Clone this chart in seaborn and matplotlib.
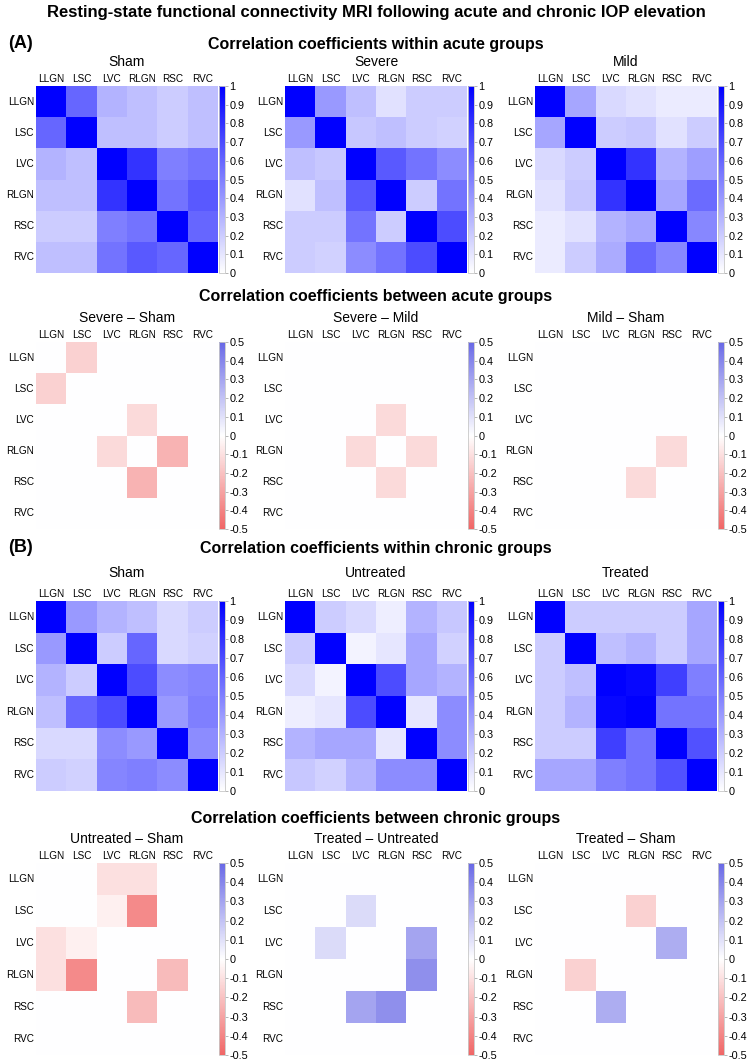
import numpy as np
import pandas as pd
import matplotlib
matplotlib.use('Agg')
import matplotlib.pyplot as plt
import seaborn as sns
from matplotlib import font_manager
from matplotlib.colors import LinearSegmentedColormap

# regions of interest (rows and columns of every matrix)
regions = ['LLGN', 'LSC', 'LVC', 'RLGN', 'RSC', 'RVC']

# correlation coefficients within acute groups
acute_sham = [
    [1.00, 0.60, 0.30, 0.25, 0.20, 0.25],
    [0.60, 1.00, 0.25, 0.25, 0.20, 0.25],
    [0.30, 0.25, 1.00, 0.80, 0.50, 0.55],
    [0.25, 0.25, 0.80, 1.00, 0.55, 0.65],
    [0.20, 0.20, 0.50, 0.55, 1.00, 0.60],
    [0.25, 0.25, 0.55, 0.65, 0.60, 1.00],
]
acute_severe = [
    [1.00, 0.40, 0.25, 0.12, 0.20, 0.20],
    [0.40, 1.00, 0.22, 0.25, 0.20, 0.18],
    [0.25, 0.22, 1.00, 0.65, 0.55, 0.45],
    [0.12, 0.25, 0.65, 1.00, 0.20, 0.55],
    [0.20, 0.20, 0.55, 0.20, 1.00, 0.70],
    [0.20, 0.18, 0.45, 0.55, 0.70, 1.00],
]
acute_mild = [
    [1.00, 0.35, 0.15, 0.12, 0.08, 0.08],
    [0.35, 1.00, 0.20, 0.22, 0.12, 0.20],
    [0.15, 0.20, 1.00, 0.80, 0.30, 0.38],
    [0.12, 0.22, 0.80, 1.00, 0.35, 0.58],
    [0.08, 0.12, 0.30, 0.35, 1.00, 0.47],
    [0.08, 0.20, 0.33, 0.60, 0.47, 1.00],
]

# differences between acute groups
acute_severe_sham = [
    [0.00, -0.15, 0.00, 0.00, 0.00, 0.00],
    [-0.15, 0.00, 0.00, 0.00, 0.00, 0.00],
    [0.00, 0.00, 0.00, -0.12, 0.00, 0.00],
    [0.00, 0.00, -0.12, 0.00, -0.25, 0.00],
    [0.00, 0.00, 0.00, -0.25, 0.00, 0.00],
    [0.00, 0.00, 0.00, 0.00, 0.00, 0.00],
]
acute_severe_mild = [
    [0.00, 0.00, 0.00, 0.00, 0.00, 0.00],
    [0.00, 0.00, 0.00, 0.00, 0.00, 0.00],
    [0.00, 0.00, 0.00, -0.12, 0.00, 0.00],
    [0.00, 0.00, -0.12, 0.00, -0.12, 0.00],
    [0.00, 0.00, 0.00, -0.12, 0.00, 0.00],
    [0.00, 0.00, 0.00, 0.00, 0.00, 0.00],
]
acute_mild_sham = [
    [0.00, 0.00, 0.00, 0.00, 0.00, 0.00],
    [0.00, 0.00, 0.00, 0.00, 0.00, 0.00],
    [0.00, 0.00, 0.00, 0.00, 0.00, 0.00],
    [0.00, 0.00, 0.00, 0.00, -0.12, 0.00],
    [0.00, 0.00, 0.00, -0.12, 0.00, 0.00],
    [0.00, 0.00, 0.00, 0.00, 0.00, 0.00],
]

# correlation coefficients within chronic groups
chronic_sham = [
    [1.00, 0.40, 0.30, 0.25, 0.15, 0.20],
    [0.40, 1.00, 0.20, 0.60, 0.15, 0.18],
    [0.30, 0.20, 1.00, 0.70, 0.45, 0.48],
    [0.25, 0.60, 0.70, 1.00, 0.40, 0.50],
    [0.15, 0.15, 0.45, 0.40, 1.00, 0.45],
    [0.20, 0.18, 0.48, 0.50, 0.45, 1.00],
]
chronic_untreated = [
    [1.00, 0.20, 0.15, 0.07, 0.30, 0.22],
    [0.20, 1.00, 0.05, 0.10, 0.35, 0.18],
    [0.15, 0.05, 1.00, 0.70, 0.35, 0.30],
    [0.07, 0.10, 0.70, 1.00, 0.10, 0.45],
    [0.30, 0.35, 0.35, 0.10, 1.00, 0.45],
    [0.22, 0.18, 0.30, 0.45, 0.45, 1.00],
]
chronic_treated = [
    [1.00, 0.20, 0.20, 0.20, 0.20, 0.35],
    [0.20, 1.00, 0.25, 0.30, 0.20, 0.35],
    [0.20, 0.25, 1.00, 0.97, 0.75, 0.50],
    [0.20, 0.30, 0.97, 1.00, 0.55, 0.55],
    [0.20, 0.20, 0.75, 0.55, 1.00, 0.68],
    [0.35, 0.35, 0.50, 0.55, 0.68, 1.00],
]

# differences between chronic groups
chronic_untreated_sham = [
    [0.00, 0.00, -0.10, -0.10, 0.00, 0.00],
    [0.00, 0.00, -0.05, -0.38, 0.00, 0.00],
    [-0.10, -0.05, 0.00, 0.00, 0.00, 0.00],
    [-0.10, -0.38, 0.00, 0.00, -0.22, 0.00],
    [0.00, 0.00, 0.00, -0.22, 0.00, 0.00],
    [0.00, 0.00, 0.00, 0.00, 0.00, 0.00],
]
chronic_treated_untreated = [
    [0.00, 0.00, 0.00, 0.00, 0.00, 0.00],
    [0.00, 0.00, 0.12, 0.00, 0.00, 0.00],
    [0.00, 0.12, 0.00, 0.00, 0.30, 0.00],
    [0.00, 0.00, 0.00, 0.00, 0.37, 0.00],
    [0.00, 0.00, 0.30, 0.37, 0.00, 0.00],
    [0.00, 0.00, 0.00, 0.00, 0.00, 0.00],
]
chronic_treated_sham = [
    [0.00, 0.00, 0.00, 0.00, 0.00, 0.00],
    [0.00, 0.00, 0.00, -0.15, 0.00, 0.00],
    [0.00, 0.00, 0.00, 0.00, 0.27, 0.00],
    [0.00, -0.15, 0.00, 0.00, 0.00, 0.00],
    [0.00, 0.00, 0.27, 0.00, 0.00, 0.00],
    [0.00, 0.00, 0.00, 0.00, 0.00, 0.00],
]

rows = [
    ('Correlation coefficients within acute groups', 'within',
     [('Sham', acute_sham), ('Severe', acute_severe), ('Mild', acute_mild)]),
    ('Correlation coefficients between acute groups', 'between',
     [('Severe \u2013 Sham', acute_severe_sham), ('Severe \u2013 Mild', acute_severe_mild),
      ('Mild \u2013 Sham', acute_mild_sham)]),
    ('Correlation coefficients within chronic groups', 'within',
     [('Sham', chronic_sham), ('Untreated', chronic_untreated), ('Treated', chronic_treated)]),
    ('Correlation coefficients between chronic groups', 'between',
     [('Untreated \u2013 Sham', chronic_untreated_sham),
      ('Treated \u2013 Untreated', chronic_treated_untreated),
      ('Treated \u2013 Sham', chronic_treated_sham)]),
]

# fonts: Arial-like and a narrow variant when available
names = {f.name for f in font_manager.fontManager.ttflist}
REG = 'Liberation Sans' if 'Liberation Sans' in names else 'DejaVu Sans'
NARROW = 'Liberation Sans Narrow' if 'Liberation Sans Narrow' in names else REG
narrow_ok = NARROW != REG

sns.set_style('white')
plt.rcParams['font.family'] = [REG, 'DejaVu Sans']
plt.rcParams['text.color'] = 'black'
plt.rcParams['xtick.color'] = 'black'
plt.rcParams['ytick.color'] = 'black'

cmap_within = LinearSegmentedColormap.from_list('wb', ['#ffffff', '#0000ff'])
cmap_between = LinearSegmentedColormap.from_list('rwb', ['#f06666', '#ffffff', '#6868e6'])

W, H = 751, 1063
fig = plt.figure(figsize=(W / 100, H / 100), dpi=100)


def box(x0, y0, x1, y1):
    # pixel box (top-left origin) -> figure fraction
    return [x0 / W, 1 - y1 / H, (x1 - x0) / W, (y1 - y0) / H]


col_x = [36, 285, 535]
hm_w = 182
row_y = [(86, 273), (342, 529), (601, 791), (863, 1055)]
sub_y = [44, 297, 549, 818]
title_y = [62, 318, 573, 839]

head_size = 14.5 if narrow_ok else 12
sub_size = 13.5 if narrow_ok else 11.5

fig.text(376 / W, 1 - 13 / H, 'Resting-state functional connectivity MRI following acute and chronic IOP elevation',
         ha='center', va='center', fontsize=head_size, fontweight='bold', family=[NARROW, 'DejaVu Sans'])
fig.text(8 / W, 1 - 44 / H, '(A)', ha='left', va='center', fontsize=13, fontweight='bold')
fig.text(8 / W, 1 - 548 / H, '(B)', ha='left', va='center', fontsize=13, fontweight='bold')

for r, (subtitle, kind, panels) in enumerate(rows):
    fam = [REG, 'DejaVu Sans'] if kind == 'within' else [NARROW, 'DejaVu Sans']
    fig.text(376 / W, 1 - sub_y[r] / H, subtitle, ha='center', va='center',
             fontsize=sub_size, fontweight='bold', family=[NARROW, 'DejaVu Sans'])
    y0, y1 = row_y[r]
    for c, (name, mat) in enumerate(panels):
        x0 = col_x[c]
        ax = fig.add_axes(box(x0, y0, x0 + hm_w, y1))
        cax = fig.add_axes(box(x0 + hm_w + 1, y0, x0 + hm_w + 7, y1))
        df = pd.DataFrame(mat, index=regions, columns=regions)
        if kind == 'within':
            vmin, vmax, cmap = 0, 1, cmap_within
            ticks = np.round(np.arange(0, 1.01, 0.1), 1) + 0.0
        else:
            vmin, vmax, cmap = -0.5, 0.5, cmap_between
            ticks = np.round(np.arange(-0.5, 0.51, 0.1), 1) + 0.0
        sns.heatmap(df, ax=ax, cmap=cmap, vmin=vmin, vmax=vmax, cbar_ax=cax,
                    linewidths=0, square=False)
        ax.xaxis.tick_top()
        ax.set_xticklabels(regions, rotation=0, fontsize=7.2, family=fam)
        ax.set_yticklabels(regions, rotation=0, fontsize=7.2, family=fam)
        ax.tick_params(length=0, pad=1.5)
        ax.set_xlabel('')
        ax.set_ylabel('')
        fig.text((x0 + hm_w / 2) / W, 1 - title_y[r] / H, name, ha='center', va='center',
                 fontsize=10, family=fam)

        cbar = ax.collections[0].colorbar
        cbar.set_ticks(ticks)
        cbar.set_ticklabels(['0' if abs(t) < 1e-9 else f'{t:g}' for t in ticks])
        cbar.outline.set_edgecolor('#c8c8c8')
        cbar.outline.set_linewidth(0.6)
        cax.tick_params(length=2, width=0.5, color='#999999', labelsize=7.8, pad=1)
        for lab in cax.get_yticklabels():
            lab.set_family(fam)

fig.savefig('out.png', dpi=100)
